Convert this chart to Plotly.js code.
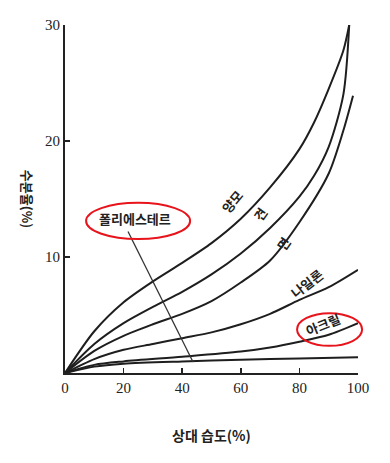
<!DOCTYPE html>
<html>
<head>
<meta charset="utf-8">
<script src="https://cdn.plot.ly/plotly-3.0.1.min.js"></script>
<style>html,body{margin:0;padding:0;background:#fff;}#chart{width:390px;height:463px;}</style>
</head>
<body>
<div id="chart"></div>
<script>
// Relative humidity (%) and moisture regain (%)
const woolX   = [0, 10, 20, 30, 40, 50, 60, 70, 80, 85, 90, 95, 97];
const woolY   = [0, 3.6, 6.1, 7.9, 9.5, 11.2, 13.3, 16.0, 19.3, 21.6, 24.5, 27.8, 30];
const silkX   = [0, 10, 20, 30, 40, 50, 60, 70, 80, 85, 90, 95, 97];
const silkY   = [0, 2.5, 4.3, 5.7, 7.0, 8.5, 10.3, 12.5, 15.2, 17.0, 19.5, 24.0, 30];
const cottonX = [0, 10, 20, 30, 40, 50, 60, 70, 80, 90, 95, 98.3];
const cottonY = [0, 1.9, 3.2, 4.2, 5.1, 6.2, 7.8, 9.7, 13.0, 17.2, 20.9, 23.9];
const nylonX  = [0, 10, 20, 30, 40, 50, 60, 70, 80, 90, 100];
const nylonY  = [0, 1.2, 2.0, 2.5, 3.0, 3.5, 4.2, 5.1, 6.3, 7.4, 8.9];
const acrylX  = [0, 10, 20, 40, 60, 70, 80, 90, 100];
const acrylY  = [0, 0.7, 1.0, 1.4, 1.85, 2.2, 2.7, 3.3, 4.3];
const polyX   = [0, 10, 20, 40, 60, 80, 100];
const polyY   = [0, 0.55, 0.8, 1.0, 1.15, 1.25, 1.35];

const xTicks = [0, 20, 40, 60, 80, 100];
const yTicks = [10, 20, 30];
const labels = ['양모', '견', '면', '나일론', '아크릴', '폴리에스테르'];

const lineStyle = {color: '#1e1e1e', width: 2, shape: 'spline', smoothing: 0.8};
const series = [[woolX, woolY], [silkX, silkY], [cottonX, cottonY], [nylonX, nylonY], [acrylX, acrylY], [polyX, polyY]];
const traces = series.map((s, i) => ({
  x: s[0], y: s[1], type: 'scatter', mode: 'lines', name: labels[i],
  line: lineStyle, cliponaxis: false, hoverinfo: 'skip'
}));

const kfont = {family: '"Noto Sans CJK KR", sans-serif', size: 13, color: '#222', weight: 'bold'};

const layout = {
  width: 390, height: 463,
  margin: {l: 65, r: 32, t: 25, b: 90},
  paper_bgcolor: '#fff', plot_bgcolor: '#fff',
  showlegend: false,
  font: {family: '"Liberation Serif", serif', size: 15, color: '#222'},
  xaxis: {
    range: [0, 100], tickvals: xTicks, ticktext: xTicks.map(String),
    showgrid: false, zeroline: false, showline: true, linecolor: '#222', linewidth: 2,
    ticks: 'inside', ticklen: 5, tickwidth: 1.5, tickcolor: '#222',
    tickfont: {family: '"Liberation Serif", serif', size: 15, color: '#222'},
    title: {text: '상대 습도(%)', font: {family: '"Noto Sans CJK KR", sans-serif', size: 14, color: '#222', weight: 'bold'}, standoff: 36}
  },
  yaxis: {
    range: [0, 30], tickvals: yTicks, ticktext: yTicks.map(String),
    showgrid: false, zeroline: false, showline: true, linecolor: '#222', linewidth: 2,
    ticks: 'inside', ticklen: 5, tickwidth: 1.5, tickcolor: '#222',
    tickfont: {family: '"Liberation Serif", serif', size: 15, color: '#222'}
  },
  annotations: [
    {text: '수분율(%)', xref: 'paper', yref: 'paper', x: -0.165, y: 0.5, textangle: 90, showarrow: false, font: kfont},
    {text: labels[0], x: 57, y: 14.8, textangle: -50, showarrow: false, font: kfont},
    {text: labels[1], x: 66.5, y: 13.7, textangle: -55, showarrow: false, font: kfont},
    {text: labels[2], x: 74.5, y: 11.2, textangle: -55, showarrow: false, font: kfont},
    {text: labels[3], x: 82.5, y: 7.7, textangle: -38, showarrow: false, font: kfont},
    {text: labels[4], x: 88, y: 4.2, textangle: -22, showarrow: false, font: kfont},
    {text: labels[5], x: 24, y: 13.3, showarrow: false, font: kfont}
  ],
  shapes: [
    {type: 'line', xref: 'x', yref: 'y', x0: 21.5, y0: 12.2, x1: 43.7, y1: 0.95, line: {color: '#333', width: 1.3}},
    {type: 'circle', xref: 'paper', yref: 'paper', x0: 0.072, x1: 0.427, y0: 0.385, y1: 0.489, line: {color: '#e8141c', width: 2}},
    {type: 'circle', xref: 'paper', yref: 'paper', x0: 0.792, x1: 1.014, y0: 0.078, y1: 0.172, line: {color: '#e8141c', width: 2}}
  ]
};

Plotly.newPlot('chart', traces, layout, {staticPlot: true, displayModeBar: false});
</script>
</body>
</html>
